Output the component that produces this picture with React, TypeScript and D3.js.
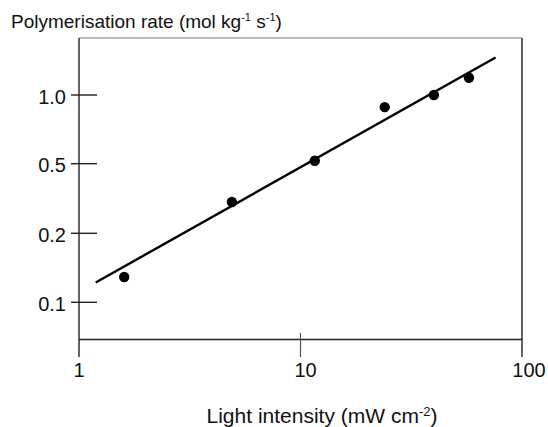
import React from "react";
import * as d3 from "d3";

const intensity = [1.6, 4.9, 11.6, 24, 40, 57.6];
const rate = [0.129, 0.302, 0.515, 0.885, 1.0, 1.19];
const fitIntensity = [1.19, 76];
const fitRate = [0.122, 1.46];
const xTicks = [1, 10, 100];
const xTickLabels = ["1", "10", "100"];
const yTicks = [0.1, 0.2, 0.5, 1.0];
const yTickLabels = ["0.1", "0.2", "0.5", "1.0"];

const W = 548;
const H = 427;
const left = 79;
const right = 522;
const top = 38;
const bottom = 339.5;
const axisEnd = 357;
const font = "'Liberation Sans', Arial, Helvetica, sans-serif";
const xLabelShift = [0, 5, 7];

export default function App() {
  const x = d3.scaleLog().domain([1, 100]).range([left, right]);
  const y = d3
    .scaleLog()
    .domain(yTicks)
    .range([302.3, 233.3, 163.7, 95]);

  const pts = intensity.map((v, i) => [x(v), y(rate[i])] as [number, number]);
  const fit = fitIntensity.map((v, i) => [x(v), y(fitRate[i])] as [number, number]);
  const line = d3.line();

  return (
    <svg
      width={W}
      height={H}
      style={{ position: "absolute", left: 0, top: 0, background: "#fff" }}
    >
      <rect x={0} y={0} width={W} height={H} fill="#fff" />
      {/* frame */}
      <line x1={left} x2={right} y1={top} y2={top} stroke="#777" strokeWidth={1} />
      <line x1={left} x2={left} y1={top} y2={axisEnd} stroke="#222" strokeWidth={1.4} />
      <line x1={right} x2={right} y1={top} y2={axisEnd} stroke="#222" strokeWidth={1.4} />
      <line x1={left} x2={right} y1={bottom} y2={bottom} stroke="#222" strokeWidth={1.4} />
      {/* x ticks */}
      {xTicks.map((t, i) => (
        <g key={"xt" + i}>
          {i === 1 && (
            <line x1={x(t)} x2={x(t)} y1={333} y2={axisEnd} stroke="#555" strokeWidth={1.2} />
          )}
          <text
            x={x(t) + xLabelShift[i]}
            y={377}
            textAnchor="middle"
            fontFamily={font}
            fontSize={20}
            fill="#111"
          >
            {xTickLabels[i]}
          </text>
        </g>
      ))}
      {/* y ticks */}
      {yTicks.map((t, i) => (
        <g key={"yt" + i}>
          <line x1={71} x2={97} y1={y(t)} y2={y(t)} stroke="#222" strokeWidth={1.4} />
          <text
            x={66}
            y={y(t) + 8.5}
            textAnchor="end"
            fontFamily={font}
            fontSize={20}
            fill="#111"
          >
            {yTickLabels[i]}
          </text>
        </g>
      ))}
      {/* fit line */}
      <path d={line(fit) || ""} fill="none" stroke="#000" strokeWidth={2.4} />
      {/* points */}
      {pts.map((p, i) => (
        <circle key={"p" + i} cx={p[0]} cy={p[1]} r={5.2} fill="#000" />
      ))}
      {/* titles */}
      <text x={11} y={27.5} fontFamily={font} fontSize={19} fill="#111">
        Polymerisation rate (mol kg
        <tspan fontSize={11} dy={-7}>-1</tspan>
        <tspan dy={7}> s</tspan>
        <tspan fontSize={11} dy={-7}>-1</tspan>
        <tspan dy={7}>)</tspan>
      </text>
      <text x={322} y={423} textAnchor="middle" fontFamily={font} fontSize={21} fill="#111">
        Light intensity (mW cm
        <tspan fontSize={13} dy={-7}>-2</tspan>
        <tspan dy={7}>)</tspan>
      </text>
    </svg>
  );
}
